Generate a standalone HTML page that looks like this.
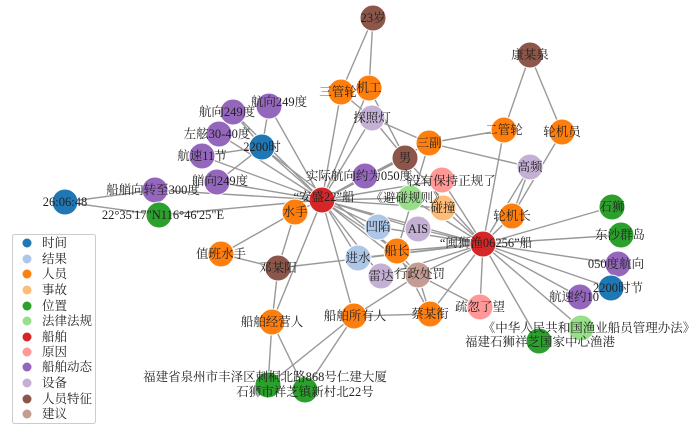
<!DOCTYPE html>
<html><head><meta charset="utf-8"><style>
html,body{margin:0;padding:0;background:#fff;}
svg{display:block;font-family:"Liberation Serif","Noto Serif CJK SC",serif;}
line{stroke:#999;stroke-width:1.4;}
circle.n{stroke:#fff;stroke-width:1;}
text{font-size:12.5px;fill:#222;}
</style></head><body>
<svg width="689" height="427" viewBox="0 0 689 427" xmlns="http://www.w3.org/2000/svg">
<g>
<!-- edges from 安盛22 (322,200) -->
<line x1="322" y1="200" x2="269" y2="106"/>
<line x1="322" y1="200" x2="233" y2="112"/>
<line x1="322" y1="200" x2="219" y2="134"/>
<line x1="322" y1="200" x2="262" y2="147"/>
<line x1="322" y1="200" x2="202" y2="156"/>
<line x1="322" y1="200" x2="217" y2="182"/>
<line x1="322" y1="200" x2="155" y2="190"/>
<line x1="322" y1="200" x2="159" y2="215"/>
<line x1="322" y1="200" x2="365" y2="176"/>
<line x1="322" y1="200" x2="295" y2="212"/>
<line x1="322" y1="200" x2="341" y2="92"/>
<line x1="322" y1="200" x2="369" y2="88"/>
<line x1="322" y1="200" x2="372" y2="118"/>
<line x1="322" y1="200" x2="405" y2="158"/>
<line x1="322" y1="200" x2="442" y2="180"/>
<line x1="322" y1="200" x2="410" y2="198"/>
<line x1="322" y1="200" x2="443" y2="208"/>
<line x1="322" y1="200" x2="378" y2="227"/>
<line x1="322" y1="200" x2="418" y2="229"/>
<line x1="322" y1="200" x2="397" y2="251"/>
<line x1="322" y1="200" x2="358" y2="258"/>
<line x1="322" y1="200" x2="381" y2="276"/>
<line x1="322" y1="200" x2="418" y2="275"/>
<line x1="322" y1="200" x2="483" y2="244"/>
<line x1="322" y1="200" x2="354" y2="316"/>
<line x1="322" y1="200" x2="272" y2="322"/>
<line x1="322" y1="200" x2="429" y2="143"/>
<!-- edges from 闽狮渔 (483,244) -->
<line x1="483" y1="244" x2="612" y2="207"/>
<line x1="483" y1="244" x2="621" y2="235"/>
<line x1="483" y1="244" x2="618" y2="264"/>
<line x1="483" y1="244" x2="611" y2="288"/>
<line x1="483" y1="244" x2="580" y2="297"/>
<line x1="483" y1="244" x2="581" y2="328"/>
<line x1="483" y1="244" x2="539" y2="341"/>
<line x1="483" y1="244" x2="480" y2="307"/>
<line x1="483" y1="244" x2="430" y2="314"/>
<line x1="483" y1="244" x2="418" y2="275"/>
<line x1="483" y1="244" x2="397" y2="251"/>
<line x1="483" y1="244" x2="418" y2="229"/>
<line x1="483" y1="244" x2="378" y2="227"/>
<line x1="483" y1="244" x2="443" y2="208"/>
<line x1="483" y1="244" x2="512" y2="216"/>
<line x1="483" y1="244" x2="530" y2="167"/>
<line x1="483" y1="244" x2="504" y2="130"/>
<line x1="483" y1="244" x2="442" y2="180"/>
<line x1="483" y1="244" x2="410" y2="198"/>
<line x1="483" y1="244" x2="358" y2="258"/>
<line x1="483" y1="244" x2="278" y2="268"/>
<line x1="483" y1="244" x2="381" y2="276"/>
<line x1="483" y1="244" x2="405" y2="158"/>
<!-- other edges -->
<line x1="373" y1="18" x2="341" y2="92"/>
<line x1="373" y1="18" x2="369" y2="88"/>
<line x1="530" y1="55" x2="504" y2="130"/>
<line x1="530" y1="55" x2="562" y2="132"/>
<line x1="562" y1="132" x2="512" y2="216"/>
<line x1="530" y1="167" x2="512" y2="216"/>
<line x1="429" y1="143" x2="530" y2="167"/>
<line x1="429" y1="143" x2="504" y2="130"/>
<line x1="429" y1="143" x2="372" y2="118"/>
<line x1="429" y1="143" x2="397" y2="251"/>
<line x1="369" y1="88" x2="405" y2="158"/>
<line x1="372" y1="118" x2="405" y2="158"/>
<line x1="341" y1="92" x2="372" y2="118"/>
<line x1="405" y1="158" x2="365" y2="176"/>
<line x1="405" y1="158" x2="410" y2="198"/>
<line x1="262" y1="147" x2="269" y2="106"/>
<line x1="262" y1="147" x2="233" y2="112"/>
<line x1="262" y1="147" x2="202" y2="156"/>
<line x1="262" y1="147" x2="217" y2="182"/>
<line x1="262" y1="147" x2="397" y2="251"/>
<line x1="65" y1="202" x2="155" y2="190"/>
<line x1="65" y1="202" x2="159" y2="215"/>
<line x1="221" y1="254" x2="295" y2="212"/>
<line x1="221" y1="254" x2="278" y2="268"/>
<line x1="295" y1="212" x2="278" y2="268"/>
<line x1="278" y1="268" x2="272" y2="322"/>
<line x1="272" y1="322" x2="268" y2="385"/>
<line x1="272" y1="322" x2="305" y2="390"/>
<line x1="354" y1="316" x2="268" y2="385"/>
<line x1="354" y1="316" x2="305" y2="390"/>
<line x1="354" y1="316" x2="430" y2="314"/>
<line x1="354" y1="316" x2="418" y2="275"/>
<line x1="418" y1="275" x2="430" y2="314"/>
<line x1="397" y1="251" x2="430" y2="314"/>
<line x1="418" y1="275" x2="480" y2="307"/>
<line x1="397" y1="251" x2="418" y2="275"/>
</g>
<g>
<circle class="n" cx="373" cy="18" r="13" fill="#8c564b"/>
<circle class="n" cx="530" cy="55" r="13" fill="#8c564b"/>
<circle class="n" cx="341" cy="92" r="13" fill="#ff7f0e"/>
<circle class="n" cx="369" cy="88" r="13" fill="#ff7f0e"/>
<circle class="n" cx="372" cy="118" r="13" fill="#c5b0d5"/>
<circle class="n" cx="269" cy="106" r="13" fill="#9467bd"/>
<circle class="n" cx="233" cy="112" r="13" fill="#9467bd"/>
<circle class="n" cx="219" cy="134" r="13" fill="#9467bd"/>
<circle class="n" cx="262" cy="147" r="13" fill="#1f77b4"/>
<circle class="n" cx="202" cy="156" r="13" fill="#9467bd"/>
<circle class="n" cx="217" cy="182" r="13" fill="#9467bd"/>
<circle class="n" cx="155" cy="190" r="13" fill="#9467bd"/>
<circle class="n" cx="65" cy="202" r="13" fill="#1f77b4"/>
<circle class="n" cx="159" cy="215" r="13" fill="#2ca02c"/>
<circle class="n" cx="504" cy="130" r="13" fill="#ff7f0e"/>
<circle class="n" cx="562" cy="132" r="13" fill="#ff7f0e"/>
<circle class="n" cx="429" cy="143" r="13" fill="#ff7f0e"/>
<circle class="n" cx="405" cy="158" r="13" fill="#8c564b"/>
<circle class="n" cx="530" cy="167" r="13" fill="#c5b0d5"/>
<circle class="n" cx="365" cy="176" r="13" fill="#9467bd"/>
<circle class="n" cx="442" cy="180" r="13" fill="#ff9896"/>
<circle class="n" cx="410" cy="198" r="13" fill="#98df8a"/>
<circle class="n" cx="443" cy="208" r="13" fill="#ffbb78"/>
<circle class="n" cx="322" cy="200" r="13" fill="#d62728"/>
<circle class="n" cx="295" cy="212" r="13" fill="#ff7f0e"/>
<circle class="n" cx="612" cy="207" r="13" fill="#2ca02c"/>
<circle class="n" cx="512" cy="216" r="13" fill="#ff7f0e"/>
<circle class="n" cx="378" cy="227" r="13" fill="#aec7e8"/>
<circle class="n" cx="418" cy="229" r="13" fill="#c5b0d5"/>
<circle class="n" cx="621" cy="235" r="13" fill="#2ca02c"/>
<circle class="n" cx="397" cy="251" r="13" fill="#ff7f0e"/>
<circle class="n" cx="358" cy="258" r="13" fill="#aec7e8"/>
<circle class="n" cx="618" cy="264" r="13" fill="#9467bd"/>
<circle class="n" cx="381" cy="276" r="13" fill="#c5b0d5"/>
<circle class="n" cx="418" cy="275" r="13" fill="#c49c94"/>
<circle class="n" cx="483" cy="244" r="13" fill="#d62728"/>
<circle class="n" cx="611" cy="288" r="13" fill="#1f77b4"/>
<circle class="n" cx="580" cy="297" r="13" fill="#9467bd"/>
<circle class="n" cx="221" cy="254" r="13" fill="#ff7f0e"/>
<circle class="n" cx="278" cy="268" r="13" fill="#8c564b"/>
<circle class="n" cx="480" cy="307" r="13" fill="#ff9896"/>
<circle class="n" cx="430" cy="314" r="13" fill="#ff7f0e"/>
<circle class="n" cx="354" cy="316" r="13" fill="#ff7f0e"/>
<circle class="n" cx="272" cy="322" r="13" fill="#ff7f0e"/>
<circle class="n" cx="581" cy="328" r="13" fill="#98df8a"/>
<circle class="n" cx="539" cy="341" r="13" fill="#2ca02c"/>
<circle class="n" cx="268" cy="385" r="13" fill="#2ca02c"/>
<circle class="n" cx="305" cy="390" r="13" fill="#2ca02c"/>
</g>
<g text-anchor="middle">
<text x="373" y="22">23岁</text>
<text x="530" y="59">康某泉</text>
<text x="338" y="96">三管轮</text>
<text x="369" y="92">机工</text>
<text x="372" y="122">探照灯</text>
<text x="279" y="106">航向249度</text>
<text x="227" y="116">航向249度</text>
<text x="217" y="138">左舷30-40度</text>
<text x="262" y="151">2200时</text>
<text x="202" y="160">航速11节</text>
<text x="220" y="185">艏向249度</text>
<text x="153" y="194">船艏向转至300度</text>
<text x="65" y="206">26:06:48</text>
<text x="163" y="219">22°35'17"N116°46'25"E</text>
<text x="504" y="134">二管轮</text>
<text x="562" y="136">轮机员</text>
<text x="429" y="147">三副</text>
<text x="405" y="162">男</text>
<text x="530" y="171">高频</text>
<text x="359" y="180">实际航向约为050度</text>
<text x="452" y="185">没有保持正规了</text>
<text x="408" y="202">《避碰规则》</text>
<text x="443" y="212">碰撞</text>
<text x="324" y="201">“安盛22”船</text>
<text x="295" y="216">水手</text>
<text x="612" y="211">石狮</text>
<text x="512" y="220">轮机长</text>
<text x="378" y="231">凹陷</text>
<text x="418" y="233">AIS</text>
<text x="620" y="239">东沙群岛</text>
<text x="397" y="255">船长</text>
<text x="358" y="262">进水</text>
<text x="616" y="268">050度航向</text>
<text x="381" y="280">雷达</text>
<text x="420" y="278">行政处罚</text>
<text x="486" y="247">“闽狮渔06256”船</text>
<text x="618" y="292">2200时节</text>
<text x="574" y="301">航速约10</text>
<text x="221" y="258">值班水手</text>
<text x="278" y="272">邓某阳</text>
<text x="480" y="311">疏忽了望</text>
<text x="430" y="318">蔡某衔</text>
<text x="355" y="320">船舶所有人</text>
<text x="272" y="326">船舶经营人</text>
<text x="589" y="332">《中华人民共和国渔业船员管理办法》</text>
<text x="540" y="346">福建石狮祥芝国家中心渔港</text>
<text x="265" y="381">福建省泉州市丰泽区刺桐北路868号仁建大厦</text>
<text x="305" y="396">石狮市祥芝镇新村北22号</text>
</g>
<g>
<rect x="12.5" y="234.5" width="83" height="189" rx="2" fill="#fff" stroke="#ccc"/>
<g font-size="12.5">
<circle cx="27" cy="243" r="4.5" fill="#1f77b4"/><text x="42" y="247">时间</text>
<circle cx="27" cy="259" r="4.5" fill="#aec7e8"/><text x="42" y="263">结果</text>
<circle cx="27" cy="274" r="4.5" fill="#ff7f0e"/><text x="42" y="278">人员</text>
<circle cx="27" cy="290" r="4.5" fill="#ffbb78"/><text x="42" y="294">事故</text>
<circle cx="27" cy="306" r="4.5" fill="#2ca02c"/><text x="42" y="310">位置</text>
<circle cx="27" cy="321" r="4.5" fill="#98df8a"/><text x="42" y="325">法律法规</text>
<circle cx="27" cy="337" r="4.5" fill="#d62728"/><text x="42" y="341">船舶</text>
<circle cx="27" cy="352" r="4.5" fill="#ff9896"/><text x="42" y="356">原因</text>
<circle cx="27" cy="367" r="4.5" fill="#9467bd"/><text x="42" y="371">船舶动态</text>
<circle cx="27" cy="383" r="4.5" fill="#c5b0d5"/><text x="42" y="387">设备</text>
<circle cx="27" cy="399" r="4.5" fill="#8c564b"/><text x="42" y="403">人员特征</text>
<circle cx="27" cy="414" r="4.5" fill="#c49c94"/><text x="42" y="418">建议</text>
</g>
</g>
</svg>
</body></html>
